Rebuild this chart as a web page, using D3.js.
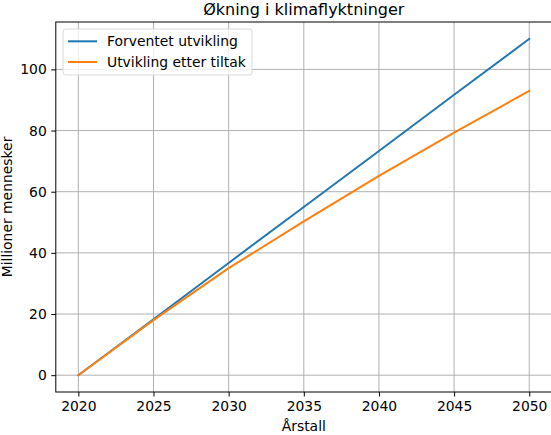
<!DOCTYPE html>
<html>
<head>
<meta charset="utf-8">
<script src="https://cdn.jsdelivr.net/npm/d3@7"></script>
<style>
  body { margin: 0; background: #fff; }
  svg text { font-family: "DejaVu Sans", sans-serif; fill: #000; }
</style>
</head>
<body>
<svg id="chart"></svg>
<script>
var width = 551;
var height = 435;
var margin = {top: 22, right: -0.8, bottom: 43, left: 55.8};

// values
var years = [2020, 2025, 2030, 2035, 2040, 2045, 2050];
var forventet = [0, 18.3, 36.7, 55, 73.3, 91.7, 110];
var tiltak = [0, 18, 35, 50.3, 65.2, 79.3, 93];
var xTicks = [2020, 2025, 2030, 2035, 2040, 2045, 2050];
var yTicks = [0, 20, 40, 60, 80, 100];

var series = [
  {name: "Forventet utvikling", values: forventet, color: "#1f77b4"},
  {name: "Utvikling etter tiltak", values: tiltak, color: "#ff7f0e"}
];

var svg = d3.select("#chart")
    .attr("width", width)
    .attr("height", height);

var x = d3.scaleLinear()
  .domain([2018.5, 2051.5])
  .range([margin.left, width - margin.right]);

var y = d3.scaleLinear()
  .domain([-5.5, 115.5])
  .range([height - margin.bottom, margin.top]);

// grid
svg.append("g")
  .selectAll("line")
  .data(xTicks)
  .enter().append("line")
  .attr("x1", function(d) { return x(d); })
  .attr("x2", function(d) { return x(d); })
  .attr("y1", margin.top)
  .attr("y2", height - margin.bottom)
  .style("stroke", "#b0b0b0")
  .style("stroke-width", 1);

svg.append("g")
  .selectAll("line")
  .data(yTicks)
  .enter().append("line")
  .attr("x1", margin.left)
  .attr("x2", width - margin.right)
  .attr("y1", function(d) { return y(d); })
  .attr("y2", function(d) { return y(d); })
  .style("stroke", "#b0b0b0")
  .style("stroke-width", 1);

// lines
var line = d3.line()
  .x(function(d, i) { return x(years[i]); })
  .y(function(d) { return y(d); });

svg.selectAll(".series")
  .data(series)
  .enter().append("path")
  .attr("class", "series")
  .attr("d", function(d) { return line(d.values); })
  .style("fill", "none")
  .style("stroke", function(d) { return d.color; })
  .style("stroke-width", 2)
  .style("stroke-linecap", "square");

// axes
var xAxis = svg.append("g")
  .attr("transform", "translate(0," + (height - margin.bottom) + ")")
  .call(d3.axisBottom(x).tickValues(xTicks).tickFormat(d3.format("d")).tickSize(4.5).tickPadding(4.5));

var yAxis = svg.append("g")
  .attr("transform", "translate(" + margin.left + ",0)")
  .call(d3.axisLeft(y).tickValues(yTicks).tickSize(4.5).tickPadding(4.5));

[xAxis, yAxis].forEach(function(a) {
  a.select(".domain").remove();
  a.selectAll("line").style("stroke", "#000").style("stroke-width", 1);
  a.selectAll("text").style("font-size", "13.9px").style("font-family", "DejaVu Sans");
});

// frame
svg.append("rect")
  .attr("x", margin.left)
  .attr("y", margin.top)
  .attr("width", width - margin.right - margin.left)
  .attr("height", height - margin.bottom - margin.top)
  .style("fill", "none")
  .style("stroke", "#000")
  .style("stroke-width", 1);

// title and labels
svg.append("text")
  .attr("x", (margin.left + width - margin.right) / 2)
  .attr("y", 15)
  .attr("text-anchor", "middle")
  .style("font-size", "16px")
  .text("Økning i klimaflyktninger");

svg.append("text")
  .attr("x", (margin.left + width - margin.right) / 2)
  .attr("y", 431)
  .attr("text-anchor", "middle")
  .style("font-size", "13.9px")
  .text("Årstall");

svg.append("text")
  .attr("transform", "translate(11.8," + ((margin.top + height - margin.bottom) / 2) + ") rotate(-90)")
  .attr("text-anchor", "middle")
  .style("font-size", "13.9px")
  .text("Millioner mennesker");

// legend
var legend = svg.append("g")
  .attr("transform", "translate(63,29)");

legend.append("rect")
  .attr("width", 189)
  .attr("height", 46)
  .attr("rx", 3)
  .style("fill", "#fff")
  .style("fill-opacity", 0.8)
  .style("stroke", "#d9d9d9")
  .style("stroke-width", 1);

var items = legend.selectAll(".item")
  .data(series)
  .enter().append("g")
  .attr("class", "item")
  .attr("transform", function(d, i) { return "translate(0," + (12.3 + i * 20.7) + ")"; });

items.append("line")
  .attr("x1", 5)
  .attr("x2", 34)
  .style("stroke", function(d) { return d.color; })
  .style("stroke-width", 2);

items.append("text")
  .attr("x", 44)
  .attr("y", 5)
  .style("font-size", "13.9px")
  .text(function(d) { return d.name; });
</script>
</body>
</html>
